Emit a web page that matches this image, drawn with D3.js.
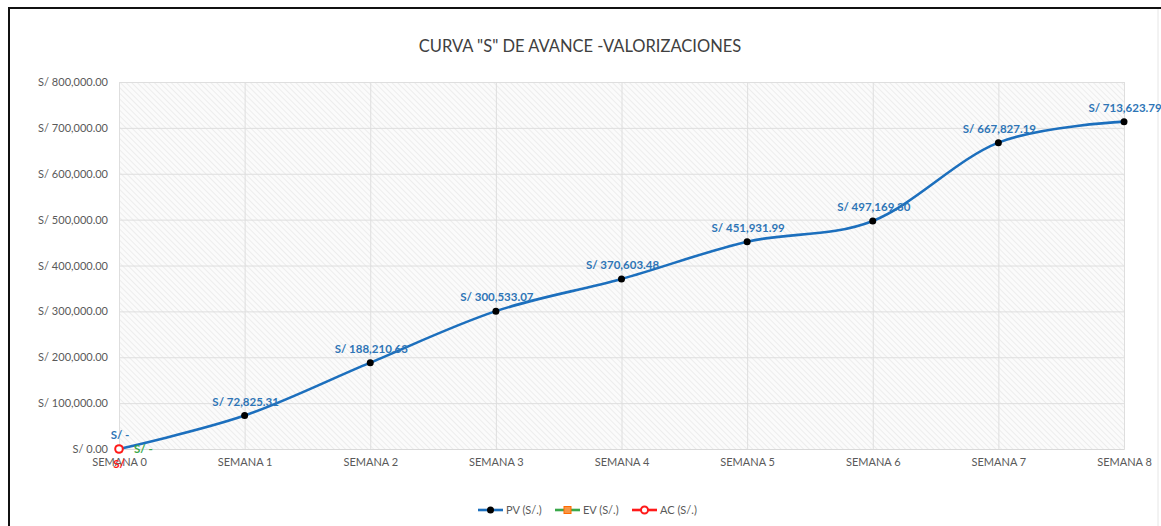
<!DOCTYPE html>
<html>
<head>
<meta charset="utf-8">
<script src="https://cdn.jsdelivr.net/npm/d3@7"></script>
<style>
  body { margin: 0; background: #fff; }
  svg { display: block; font-family: Lato, "Open Sans", sans-serif; }
  .tick text { fill: #595959; font-size: 11px; font-family: Lato, "Open Sans", sans-serif; }
</style>
</head>
<body>
<svg id="chart" width="1161" height="526"></svg>
<script>
// Data
const semanas = ["SEMANA 0", "SEMANA 1", "SEMANA 2", "SEMANA 3", "SEMANA 4",
                 "SEMANA 5", "SEMANA 6", "SEMANA 7", "SEMANA 8"];
const pv = [0, 72825.31, 188210.63, 300533.07, 370603.48, 451931.99, 497169.30, 667827.19, 713623.79];
const ev = [0];
const ac = [0];
const yTicks = [0, 100000, 200000, 300000, 400000, 500000, 600000, 700000, 800000];

const margin = {top: 82, right: 37, bottom: 77, left: 119},
    width = 1161 - margin.left - margin.right,
    height = 526 - margin.top - margin.bottom;

const svg = d3.select("#chart");

// Outer frame
svg.append("path")
    .attr("d", "M9,530 L9,8 L1170,8")
    .attr("fill", "none")
    .attr("stroke", "#111")
    .attr("stroke-width", 2);
svg.append("line")
    .attr("x1", 1158).attr("x2", 1158).attr("y1", 9).attr("y2", 526)
    .attr("stroke", "#e6e6e6");

// Hatch pattern for plot area
const defs = svg.append("defs");
const pat = defs.append("pattern")
    .attr("id", "hatch")
    .attr("patternUnits", "userSpaceOnUse")
    .attr("width", 4).attr("height", 4)
    .attr("patternTransform", "rotate(-45)");
pat.append("rect").attr("width", 4).attr("height", 4).attr("fill", "#fbfbfb");
pat.append("line")
    .attr("x1", 0).attr("y1", 0).attr("x2", 0).attr("y2", 4)
    .attr("stroke", "#e4e4e4").attr("stroke-width", 1.2);

const g = svg.append("g")
    .attr("transform", `translate(${margin.left},${margin.top})`);

const x = d3.scalePoint()
    .domain(semanas)
    .range([0, width]);

const y = d3.scaleLinear()
    .domain([0, 800000])
    .range([height, 0]);

g.append("rect")
    .attr("width", width)
    .attr("height", height)
    .attr("fill", "url(#hatch)");

const money = d => "S/ " + d3.format(",.2f")(d);

// Y axis + horizontal grid
g.append("g")
    .call(d3.axisLeft(y).tickValues(yTicks).tickFormat(money).tickSize(-width).tickPadding(11))
    .call(a => a.select(".domain").remove())
    .call(a => a.selectAll(".tick line").attr("stroke", "#dedede"));

// X axis + vertical grid
g.append("g")
    .attr("transform", `translate(0,${height})`)
    .call(d3.axisBottom(x).tickSize(-height).tickPadding(9))
    .call(a => a.select(".domain").attr("stroke", "#d9d9d9"))
    .call(a => a.selectAll(".tick line").attr("stroke", "#dedede"));

// Title
svg.append("text")
    .attr("x", 580)
    .attr("y", 52)
    .attr("text-anchor", "middle")
    .attr("fill", "#404040")
    .style("font-size", "16.5px")
    .text('CURVA "S" DE AVANCE -VALORIZACIONES');

// PV line
const line = d3.line()
    .x((d, i) => x(semanas[i]))
    .y(d => y(d))
    .curve(d3.curveCatmullRom.alpha(0));

g.append("path")
    .datum(pv)
    .attr("fill", "none")
    .attr("stroke", "#1c6fbd")
    .attr("stroke-width", 2.6)
    .attr("d", line);

g.selectAll(".pv-dot")
    .data(pv)
    .enter()
    .append("circle")
    .attr("cx", (d, i) => x(semanas[i]))
    .attr("cy", d => y(d))
    .attr("r", 3.5)
    .attr("fill", "#000");

const labelFmt = d => d === 0 ? "S/ -" : money(d);

g.selectAll(".pv-label")
    .data(pv)
    .enter()
    .append("text")
    .attr("x", (d, i) => x(semanas[i]) + 1)
    .attr("y", d => y(d) - 10)
    .attr("text-anchor", "middle")
    .attr("fill", "#2e75b6")
    .style("font-size", "11.5px")
    .style("font-weight", "bold")
    .text(labelFmt);

// EV point (square marker) and label on the right
g.selectAll(".ev-dot")
    .data(ev)
    .enter()
    .append("rect")
    .attr("x", (d, i) => x(semanas[i]) - 3.5)
    .attr("y", d => y(d) - 3.5)
    .attr("width", 7).attr("height", 7)
    .attr("fill", "#f79646");

g.selectAll(".ev-label")
    .data(ev)
    .enter()
    .append("text")
    .attr("x", (d, i) => x(semanas[i]) + 15)
    .attr("y", d => y(d) + 4)
    .attr("fill", "#3aa84a")
    .style("font-size", "11.5px")
    .style("font-weight", "bold")
    .text(labelFmt);

// AC point (open circle) and label below
g.selectAll(".ac-dot")
    .data(ac)
    .enter()
    .append("circle")
    .attr("cx", (d, i) => x(semanas[i]))
    .attr("cy", d => y(d))
    .attr("r", 3.8)
    .attr("fill", "#fff")
    .attr("stroke", "#ff1a1a")
    .attr("stroke-width", 2);

g.selectAll(".ac-label")
    .data(ac)
    .enter()
    .append("text")
    .attr("x", (d, i) => x(semanas[i]))
    .attr("y", d => y(d) + 19)
    .attr("text-anchor", "middle")
    .attr("fill", "#ff1a1a")
    .style("font-size", "11.5px")
    .style("font-weight", "bold")
    .text("S/");

// Legend
const legendItems = [
  {name: "PV (S/.)", color: "#1c6fbd", marker: "dot"},
  {name: "EV (S/.)", color: "#3aa84a", marker: "square"},
  {name: "AC (S/.)", color: "#ff1a1a", marker: "ring"}
];
const legend = svg.append("g").attr("transform", "translate(478,510)");
const item = legend.selectAll("g")
    .data(legendItems)
    .enter()
    .append("g")
    .attr("transform", (d, i) => `translate(${i * 77},0)`);
item.append("line")
    .attr("x1", 0).attr("x2", 25)
    .attr("stroke", d => d.color)
    .attr("stroke-width", 2.6);
item.filter(d => d.marker === "dot").append("circle")
    .attr("cx", 12.5).attr("r", 3.5).attr("fill", "#000");
item.filter(d => d.marker === "square").append("rect")
    .attr("x", 9).attr("y", -3.5).attr("width", 7).attr("height", 7)
    .attr("fill", "#f79646").attr("stroke", "#ff6a00");
item.filter(d => d.marker === "ring").append("circle")
    .attr("cx", 12.5).attr("r", 3.5).attr("fill", "#fff")
    .attr("stroke", "#ff1a1a").attr("stroke-width", 2);
item.append("text")
    .attr("x", 28)
    .attr("y", 4)
    .attr("fill", "#595959")
    .style("font-size", "11px")
    .text(d => d.name);
</script>
</body>
</html>
